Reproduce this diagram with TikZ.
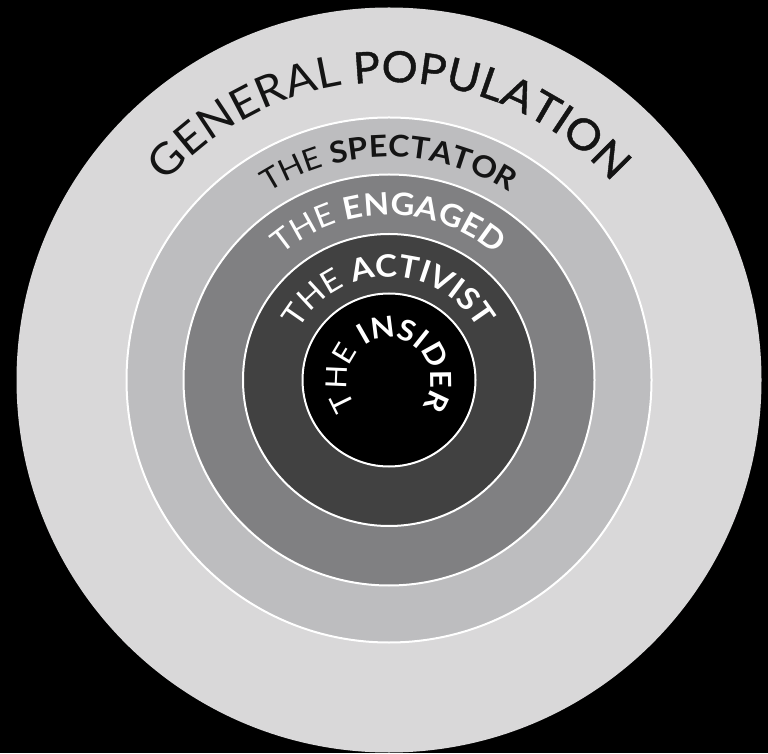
\documentclass[tikz,border=0pt]{standalone}
\usepackage{fontspec}
\setmainfont{Lato}[FakeStretch=1.07]
\newfontfamily\medf{Lato}[FakeStretch=1.05, FakeBold=1]
\usetikzlibrary{decorations.text}
\definecolor{ringA}{RGB}{217,216,217}
\definecolor{ringB}{RGB}{189,189,191}
\definecolor{ringC}{RGB}{128,128,130}
\definecolor{ringD}{RGB}{65,65,65}
\definecolor{ringE}{RGB}{0,0,0}
\definecolor{inkdark}{RGB}{20,20,20}
\tikzset{
  ring/.style={draw=white, line width=2pt},
  curvetext/.style={decorate, decoration={text along path, text align=center, text={#1}}}
}
\begin{document}
\begin{tikzpicture}[x=1pt,y=1pt]
\fill[black] (0,0) rectangle (768,753);
\useasboundingbox (0,0) rectangle (768,753);
\begin{scope}[shift={(389,373)}]
  \fill[ringA] (0,0) circle[radius=372.5];
  \filldraw[ring, fill=ringB] (0,0) circle[radius=262.5];
  \filldraw[ring, fill=ringC] (0,0) circle[radius=205.5];
  \filldraw[ring, fill=ringD] (0,0) circle[radius=146];
  \filldraw[ring, fill=ringE] (0,0) circle[radius=86.5];
  % labels
  \path[curvetext={|\fontsize{43}{50}\selectfont\color{inkdark}|GENERAL |\fontsize{43}{50}\selectfont\medf\color{inkdark}|POPULATION}]
    (180:298) arc[start angle=180, end angle=0, radius=298];
  \path[curvetext={|\fontsize{30}{36}\selectfont\color{inkdark}|THE |\fontsize{30}{36}\selectfont\bfseries\color{inkdark}|SPECTATOR}]
    (180:223) arc[start angle=180, end angle=0, radius=223];
  \path[curvetext={|\fontsize{31}{36}\selectfont\color{white}|THE |\fontsize{31}{36}\selectfont\bfseries\color{white}|ENGAGED}]
    (180:165) arc[start angle=180, end angle=0, radius=165];
  \path[curvetext={|\fontsize{31}{36}\selectfont\color{white}|THE |\fontsize{31}{36}\selectfont\bfseries\color{white}|ACTIVIST}]
    (200:103) arc[start angle=200, end angle=-20, radius=103];
  \path[curvetext={|\fontsize{29}{34}\selectfont\color{white}|THE |\fontsize{29}{34}\selectfont\bfseries\color{white}|INSIDER}]
    (270:42) arc[start angle=270, end angle=-90, radius=42];
\end{scope}
\end{tikzpicture}
\end{document}
